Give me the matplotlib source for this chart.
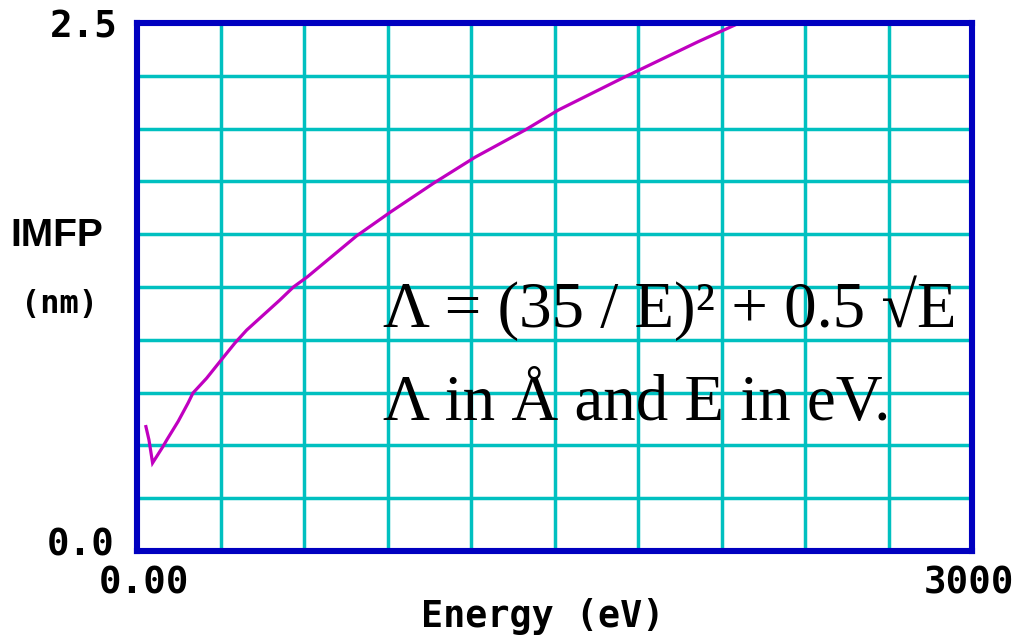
import matplotlib
matplotlib.use("Agg")
import matplotlib.pyplot as plt

# Inelastic mean free path versus electron energy
energy_ev = [32, 43, 56, 93, 107, 148, 184, 201, 250, 298, 352, 394, 513, 562,
             613, 789, 913, 1065, 1214, 1394, 1514, 1747, 2017, 2109, 2149]
imfp_nm = [0.589, 0.526, 0.417, 0.494, 0.526, 0.614, 0.702, 0.748, 0.818,
           0.897, 0.985, 1.046, 1.188, 1.250, 1.299, 1.492, 1.607, 1.741,
           1.864, 1.993, 2.088, 2.241, 2.412, 2.467, 2.491]

x_range = [0, 3000]
y_range = [0.0, 2.5]
x_tick_labels = ["0.00", "3000"]
y_tick_labels = ["0.0", "2.5"]
x_title = "Energy (eV)"
y_title = "IMFP"
y_unit = "(nm)"
formula_lines = ["\u039b = (35 / E)\u00b2 + 0.5 \u221aE",
                 "\u039b in \u00c5 and E in eV."]

W, H = 1013, 638
fig = plt.figure(figsize=(W / 100, H / 100), dpi=100)
fig.patch.set_facecolor("white")


def fx(px):
    return px / W


def fy(py):
    return 1 - py / H


left, right, top, bottom = 137, 972, 23, 551
ax = fig.add_axes([fx(left), fy(bottom), fx(right - left), (bottom - top) / H])
ax.set_xlim(*x_range)
ax.set_ylim(*y_range)

# grid: 10 divisions on each axis
n_div = 10
ax.set_xticks([x_range[0] + i * (x_range[1] - x_range[0]) / n_div for i in range(n_div + 1)])
ax.set_yticks([y_range[0] + i * (y_range[1] - y_range[0]) / n_div for i in range(n_div + 1)])
ax.set_xticklabels([])
ax.set_yticklabels([])
ax.tick_params(length=0)
ax.grid(True, color="#00C0C0", linewidth=2.5)
ax.set_axisbelow(True)

for sp in ax.spines.values():
    sp.set_color("#0000C0")
    sp.set_linewidth(4.4)
    sp.set_zorder(5)

ax.plot(energy_ev, imfp_nm, color="#C000C0", linewidth=2.3, zorder=3,
        solid_joinstyle="miter")

mono = dict(family="DejaVu Sans Mono", weight="bold", color="black")

# axis end labels
fig.text(fx(118), fy(37), y_tick_labels[1], ha="right", va="baseline", fontsize=27, **mono)
fig.text(fx(115), fy(555), y_tick_labels[0], ha="right", va="baseline", fontsize=27, **mono)
fig.text(fx(144), fy(593), x_tick_labels[0], ha="center", va="baseline", fontsize=27, **mono)
fig.text(fx(969), fy(593), x_tick_labels[1], ha="center", va="baseline", fontsize=27, **mono)

# axis titles
fig.text(fx(543), fy(627), x_title, ha="center", va="baseline", fontsize=26.5, **mono)
fig.text(fx(57), fy(246), y_title, ha="center", va="baseline", fontsize=28,
         family="Liberation Sans", weight="bold", color="black")
fig.text(fx(59), fy(313), y_unit, ha="center", va="baseline", fontsize=23, **mono)

# formula annotation
for text, base in zip(formula_lines, [327, 420]):
    ax.text(fx(383), fy(base), text, transform=fig.transFigure, ha="left",
            va="baseline", fontsize=46.7, family="Liberation Serif", color="black",
            zorder=4)

fig.savefig("out.png", dpi=100, facecolor="white")
